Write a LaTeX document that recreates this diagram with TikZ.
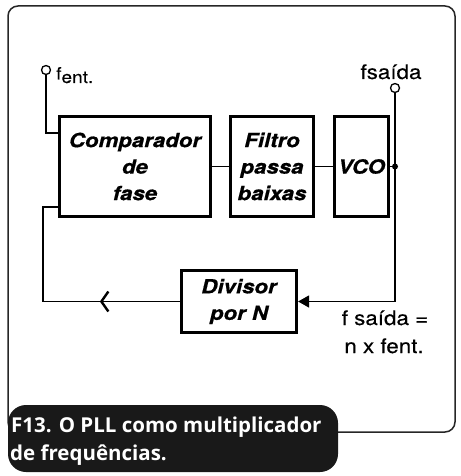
\documentclass[tikz,border=0pt]{standalone}
\usepackage{fontspec}
\usepackage{tikz}
\usetikzlibrary{arrows.meta,positioning,calc,decorations.markings}
\newfontfamily\blkfont[FakeStretch=1.14,FakeBold=0.6]{TeX Gyre Heros}
\newfontfamily\lblfont[FakeStretch=1.12,FakeBold=0.3]{TeX Gyre Heros}
\newfontfamily\capfont{Open Sans}

\begin{document}
\begin{tikzpicture}[x=1pt,y=-1pt,
  blk/.style={draw, line width=3.3pt, minimum width=#1, minimum height=100pt,
    inner sep=0pt, align=center, font=\blkfont\bfseries\itshape\fontsize{19.5}{26.5}\selectfont},
  wire/.style={line width=1.5pt},
  term/.style={circle, draw, line width=1.3pt, fill=white, minimum size=9pt, inner sep=0pt},
  lbl/.style={inner sep=0pt, font=\lblfont\fontsize{20}{28}\selectfont}]
  \useasboundingbox (0,0) rectangle (460,476);
  % moldura e legenda
  \draw[line width=1.5pt, black!85, rounded corners=10pt] (8,6) rectangle (455,432);
  \fill[black!90, rounded corners=18pt] (8,405) rectangle (338,472);
  \node[anchor=base west, inner sep=0pt, text=white, font=\capfont\bfseries\fontsize{20.5}{28}\selectfont]
    (cap1) at (11,432) {F13. O PLL como multiplicador};
  \node[anchor=base west, inner sep=0pt, text=white, font=\capfont\bfseries\fontsize{20.5}{28}\selectfont]
    (cap2) at (10,460) {de frequências.};
  % blocos
  \node[blk=151pt] (comp) at (135,166.5) {Comparador\\de\\fase};
  \node[blk=83pt] (filtro) at (272,166.5) {Filtro\\passa\\baixas};
  \node[blk=54pt] (vco) at (361.5,166.5) {VCO};
  \node[blk=115.5pt, line width=2.7pt, minimum height=61.5pt] (div) at (239,301.5) {Divisor\\por N};
  \draw[wire] (comp) -- (filtro);
  \draw[wire] (filtro) -- (vco);
  % entrada
  \node[term] (fin) at (46,70) {};
  \coordinate (inb) at (46,133);
  \draw[wire] (fin) -- (inb) -- (inb -| comp.west);
  \node[lbl, anchor=base west, font=\lblfont\fontsize{17}{20}\selectfont] (fent) at (56,83)
    {\raisebox{3.5pt}{f}ent.};
  % saida
  \coordinate (vout) at (395,166.5);
  \node[term] (fout) at (395,88) {};
  \draw[wire] (vco.east) -- (vout);
  \fill (vout) circle (3pt);
  \draw[wire, -{Triangle[length=11pt,width=12pt]}] (fout) -- (vout) -- (vout |- div.east) -- (div.east);
  \node[lbl, anchor=base] (fsai) at (391,79) {fsaída};
  \node[lbl, anchor=base] (rel1) at (385,325) {f saída =};
  \node[lbl, anchor=base] (rel2) at (384,353) {n x fent.};
  % realimentacao
  \coordinate (fbd) at (43,301.5);
  \coordinate (fbc) at (43,207);
  \draw[wire, postaction={decorate}, decoration={markings,
      mark=at position 80pt with {\arrow{Straight Barb[length=7pt,width=20pt,line width=2.4pt]}}}]
    (div.west) -- (fbd) -- (fbc) -- (fbc -| comp.west);
\end{tikzpicture}
\end{document}
